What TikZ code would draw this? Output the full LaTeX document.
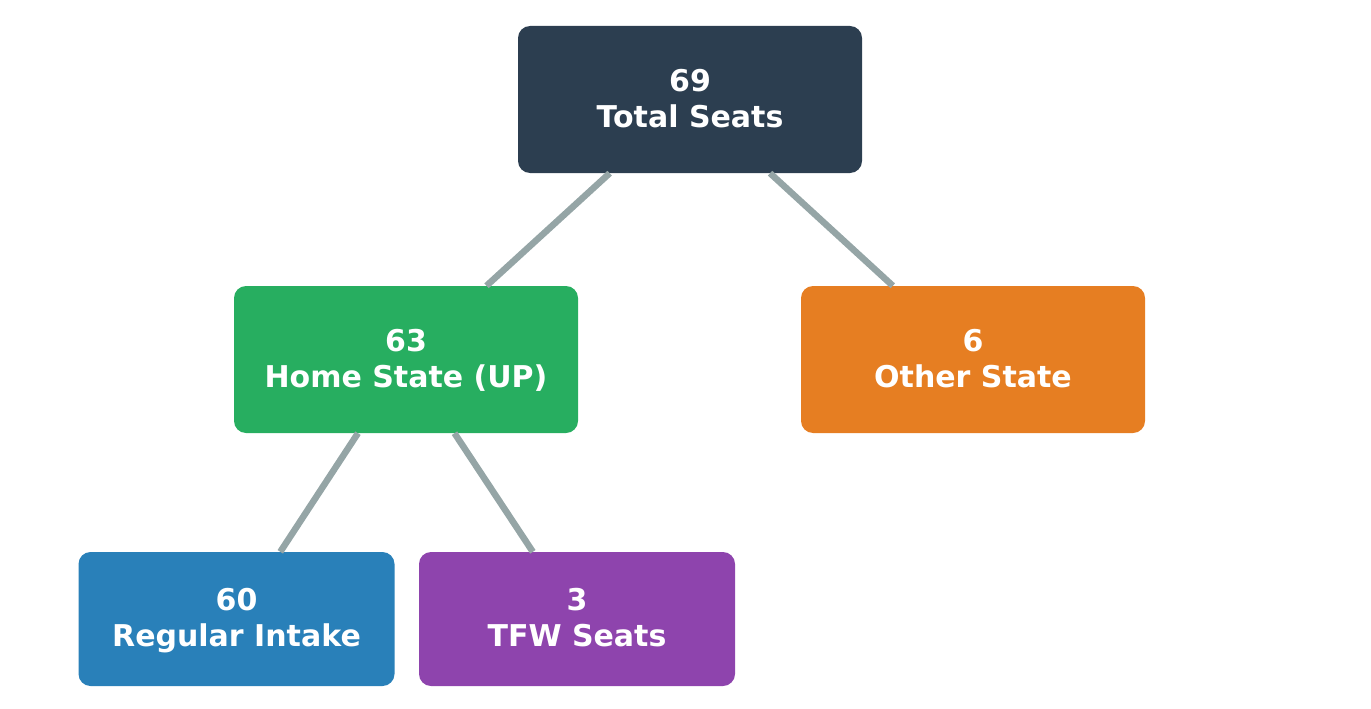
\documentclass[tikz,border=0pt]{standalone}
\usepackage{fontspec}
\setmainfont{DejaVu Sans}

\definecolor{topcol}{HTML}{2C3E50}
\definecolor{homecol}{HTML}{27AE60}
\definecolor{othercol}{HTML}{E67E22}
\definecolor{regcol}{HTML}{2980B9}
\definecolor{tfwcol}{HTML}{8E44AD}
\definecolor{linkcol}{HTML}{95A5A6}

\newcommand{\seatlabel}[2]{\rule{0pt}{30pt}#1\\\strut#2}

\tikzset{
    seatbox/.style={rounded corners=12pt, inner sep=0pt, text=white, align=center,
        font=\fontsize{30}{36}\selectfont\bfseries},
    bigbox/.style={seatbox, minimum width=344pt, minimum height=147pt},
    smallbox/.style={seatbox, minimum width=316pt, minimum height=134pt},
    link/.style={draw=linkcol, line width=6.5pt}
}

\begin{document}
\begin{tikzpicture}[x=1pt,y=-1pt]
    \useasboundingbox (0,0) rectangle (1371,709);

    \node[bigbox, fill=topcol] (T) at (690,99.5) {\seatlabel{69}{Total Seats}};
    \node[bigbox, fill=homecol] (H) at (406,359.5) {\seatlabel{63}{Home State (UP)}};
    \node[bigbox, fill=othercol] (O) at (973,359.5) {\seatlabel{6}{Other State}};
    \node[smallbox, fill=regcol] (R) at (236.5,619) {\seatlabel{60}{Regular Intake}};
    \node[smallbox, fill=tfwcol] (F) at (577,619) {\seatlabel{3}{TFW Seats}};

    \draw[link] (T) -- (H);
    \draw[link] (T) -- (O);
    \draw[link] (H) -- (R);
    \draw[link] (H) -- (F);
\end{tikzpicture}
\end{document}
